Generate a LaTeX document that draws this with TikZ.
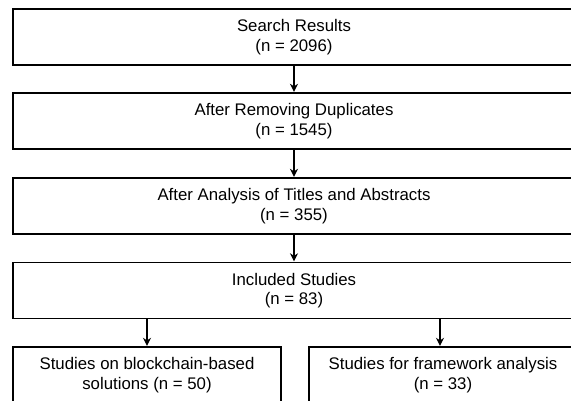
\documentclass[tikz,border=0pt]{standalone}
\usepackage{fontspec}
\setmainfont{Liberation Sans}
\usepackage{tikz}
\usetikzlibrary{arrows.meta,positioning,calc}

\begin{document}
\begin{tikzpicture}[x=1pt,y=-1pt,>=Stealth,
  stage/.style={draw,line width=1.2pt,minimum width=562pt,minimum height=56pt,
    inner sep=0pt,align=center,font=\fontsize{16.8}{19.5}\selectfont},
  half/.style={stage,minimum width=268pt},
  flow/.style={->,line width=1.8pt,shorten >=0.6pt,>={Stealth[length=8pt,width=8pt]}},
  split/.style={->,line width=1.1pt,shorten >=0.6pt,>={Stealth[length=8pt,width=8pt]}}]
\useasboundingbox (0,0) rectangle (571,400);
\clip (0,0) rectangle (571,400);
\node[stage] (search) at (294,37) {Search Results\\(n = 2096)};
\node[stage] (dup) at (294,121) {After Removing Duplicates\\(n = 1545)};
\node[stage] (titles) at (294,206) {After Analysis of Titles and Abstracts\\(n = 355)};
\node[stage] (incl) at (294,290.5) {Included Studies\\(n = 83)};
\node[half] (sol) at (147,375) {Studies on blockchain-based\\solutions (n = 50)};
\node[half] (frame) at (443,375) {Studies for framework analysis\\(n = 33)};
\draw[flow] (search) -- (dup);
\draw[flow] (dup) -- (titles);
\draw[flow] (titles) -- (incl);
\draw[split] (incl.south -| sol.north) -- (sol.north);
\draw[split] ($(incl.south -| frame.north)+(-3,0)$) -- ($(frame.north)+(-3,0)$);
\end{tikzpicture}
\end{document}
